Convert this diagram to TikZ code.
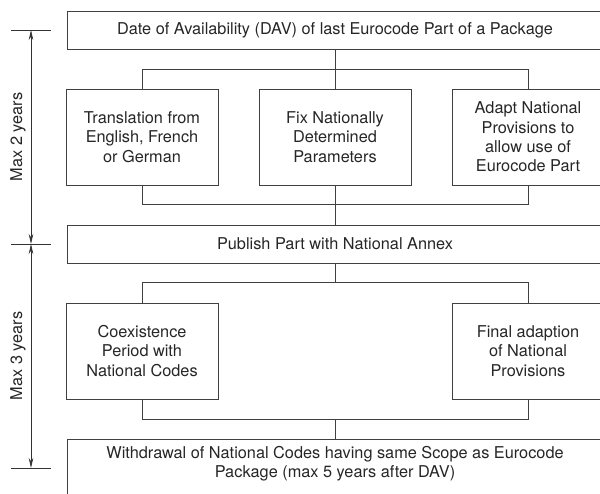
\documentclass[tikz,border=0pt]{standalone}
\usepackage{fontspec}
\setmainfont{TeX Gyre Heros}
\usetikzlibrary{arrows.meta}

\begin{document}
\begin{tikzpicture}[x=1pt,y=-1pt,
    box/.style={draw=black!75,line width=0.8pt,text=black!85,align=center,inner sep=0pt,
      font=\fontsize{16.3}{19.3}\selectfont},
    wide/.style={box,minimum width=536pt,minimum height=38pt},
    small/.style={box,minimum width=152pt,minimum height=96pt},
    link/.style={draw=black!75,line width=0.8pt},
    dim/.style={draw=black!80,line width=0.8pt},
    yearlabel/.style={rotate=90,text=black!85,font=\fontsize{16.3}{19.3}\selectfont}]
   \useasboundingbox (0,0) rectangle (600,494);
   \clip (0,0) rectangle (600,494);

   % boxes
   \node[wide] (dav) at (335,30) {Date of Availability (DAV) of last Eurocode Part of a Package};
   \node[small] (trans) at (142,137) {Translation from\\English, French\\or German};
   \node[small] (fix) at (335,137) {Fix Nationally\\Determined\\Parameters};
   \node[small] (adapt) at (528,137) {Adapt National\\Provisions to\\allow use of\\Eurocode Part};
   \node[wide] (pub) at (335,244) {Publish Part with National Annex};
   \node[small] (coex) at (142,351) {Coexistence\\Period with\\National Codes};
   \node[small] (final) at (528,351) {Final adaption\\of National\\Provisions};
   \node[wide,anchor=north,inner ysep=7pt,text depth=50pt] (withdraw) at (335,439)
     {Withdrawal of National Codes having same Scope as Eurocode\\Package (max 5 years after DAV)};

   % brackets
   \draw[link] (dav) -- (fix);
   \draw[link] (trans.north) -- ++(0,-19) -| (adapt.north);
   \draw[link] (trans.south) -- ++(0,19) -| (adapt.south);
   \draw[link] (fix) -- (pub);
   \draw[link] (pub.south) -- ++(0,20);
   \draw[link] (coex.north) -- ++(0,-20) -| (final.north);
   \draw[link] (coex.south) -- ++(0,20) -| (final.south);
   \draw[link] (withdraw.north) -- ++(0,-20);

   % time scale
   \coordinate (d0) at (31,30);
   \coordinate (d1) at (31,244);
   \coordinate (d2) at (31,468);
   \foreach \d in {d0,d1,d2}
     \draw[dim] (\d) ++(-20,0) -- ++(40,0);
   \draw[dim,{Stealth[length=10pt,width=4.5pt]}-{Stealth[length=10pt,width=4.5pt]}] (d0) -- (d1);
   \draw[dim,{Stealth[length=10pt,width=4.5pt]}-{Stealth[length=10pt,width=4.5pt]}] (d1) -- (d2);
   \node[yearlabel] (max2) at (18,137) {Max 2 years};
   \node[yearlabel] (max3) at (18,356) {Max 3 years};
\end{tikzpicture}
\end{document}
